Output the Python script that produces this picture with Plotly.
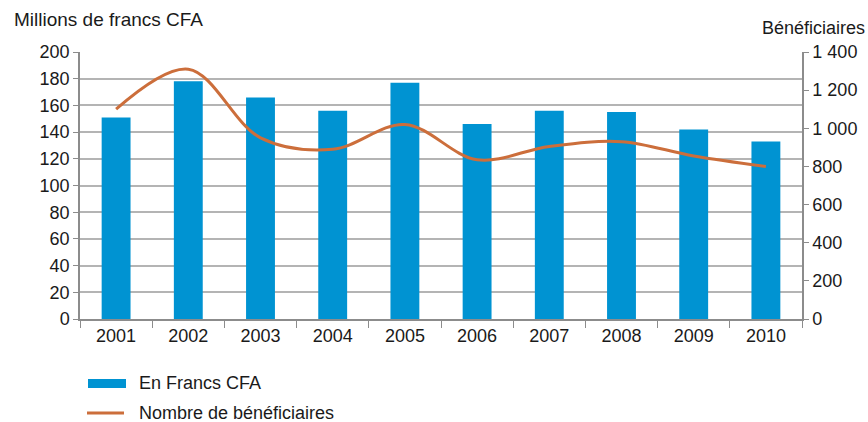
import plotly.graph_objects as go

years = ["2001", "2002", "2003", "2004", "2005", "2006", "2007", "2008", "2009", "2010"]
francs_cfa = [151, 178, 166, 156, 177, 146, 156, 155, 142, 133]
beneficiaires = [1100, 1310, 950, 890, 1020, 835, 905, 930, 855, 800]

FONT = "Liberation Sans, Arial, Helvetica, sans-serif"
GRID = "#b4b4b4"
AXIS = "#8c8c8c"
BLUE = "#0093D2"
ORANGE = "#CC6E3B"

L, R, T, B = 80, 66, 52, 103
PW, PH = 868 - L - R, 422 - T - B


def px_x(x):
    return (x - L) / PW


def px_y(y):
    return (422 - B - y) / PH


fig = go.Figure()
fig.add_trace(go.Bar(
    x=years, y=francs_cfa, name="En Francs CFA",
    marker=dict(color=BLUE, line=dict(width=0)),
    width=0.4, yaxis="y", showlegend=False,
))
fig.add_trace(go.Scatter(
    x=years, y=beneficiaires, name="Nombre de bénéficiaires",
    mode="lines", line=dict(color=ORANGE, width=3, shape="spline", smoothing=1.0),
    yaxis="y2", showlegend=False,
))

fig.update_layout(
    width=868, height=422,
    margin=dict(l=L, r=R, t=T, b=B, autoexpand=False),
    paper_bgcolor="white", plot_bgcolor="white",
    font=dict(family=FONT, size=18, color="#1a1a1a"),
    separators=", ",
    showlegend=False,
    xaxis=dict(
        type="category", tickson="boundaries", ticks="outside", ticklen=7,
        tickcolor=AXIS, showline=True, linecolor=AXIS, linewidth=1.5,
        showgrid=False, tickfont=dict(size=18),
    ),
    yaxis=dict(
        range=[0, 200], dtick=20, ticks="outside", ticklen=5, tickcolor=AXIS,
        showline=True, linecolor=AXIS, linewidth=1.5,
        showgrid=True, gridcolor=GRID, gridwidth=1.5, zeroline=False,
        tickfont=dict(size=18),
    ),
    yaxis2=dict(
        range=[0, 1400], dtick=200, overlaying="y", side="right",
        ticks="outside", ticklen=5, tickcolor=AXIS, tickformat=",d",
        showline=True, linecolor=AXIS, linewidth=1.5, showgrid=False,
        zeroline=False, tickfont=dict(size=18),
    ),
)

fig.add_annotation(text="Millions de francs CFA", xref="paper", yref="paper",
                   x=px_x(12), y=px_y(20), xanchor="left", yanchor="middle",
                   showarrow=False, font=dict(size=19))
fig.add_annotation(text="Bénéficiaires", xref="paper", yref="paper",
                   x=px_x(867), y=px_y(28), xanchor="right", yanchor="middle",
                   showarrow=False, font=dict(size=18))

# custom legend
fig.add_shape(type="rect", xref="paper", yref="paper",
              x0=px_x(88), x1=px_x(126), y0=px_y(388), y1=px_y(379),
              fillcolor=BLUE, line=dict(width=0))
fig.add_shape(type="line", xref="paper", yref="paper",
              x0=px_x(87), x1=px_x(124), y0=px_y(413), y1=px_y(413),
              line=dict(color=ORANGE, width=3))
fig.add_annotation(text="En Francs CFA", xref="paper", yref="paper",
                   x=px_x(137), y=px_y(383), xanchor="left", yanchor="middle",
                   showarrow=False, font=dict(size=18))
fig.add_annotation(text="Nombre de bénéficiaires", xref="paper", yref="paper",
                   x=px_x(137), y=px_y(413), xanchor="left", yanchor="middle",
                   showarrow=False, font=dict(size=18))

fig.write_html(
    "out.html",
    config={"displayModeBar": False},
    post_script="document.body.style.margin='0';document.body.style.overflow='hidden';",
)
